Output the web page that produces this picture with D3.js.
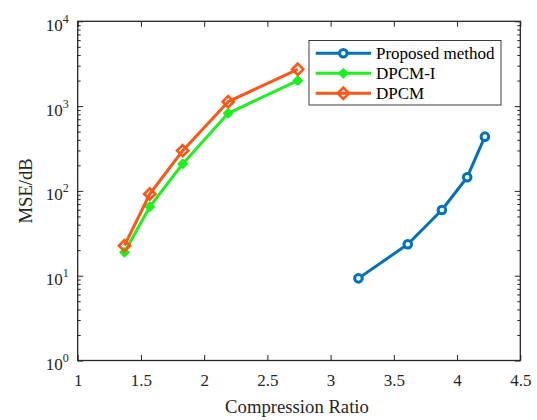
<!DOCTYPE html>
<html>
<head>
<meta charset="utf-8">
<script src="https://cdn.jsdelivr.net/npm/d3@7"></script>
<style>
  html, body { margin: 0; padding: 0; background: #fff; }
  svg, svg text, svg g { font-family: "Liberation Serif", "Times New Roman", serif !important; }
</style>
</head>
<body>
<svg id="chart" width="537" height="420"></svg>
<script>
// Compression ratio (x) and MSE (y) for each method
const proposedCR  = [3.22, 3.61, 3.88, 4.08, 4.22];
const proposedMSE = [9.3, 23.5, 59.5, 145, 436];

const dpcmICR  = [1.37, 1.57, 1.83, 2.19, 2.74];
const dpcmIMSE = [18.9, 65, 208, 822, 1993];

const dpcmCR  = [1.37, 1.57, 1.83, 2.19, 2.74];
const dpcmMSE = [22.6, 92, 298, 1127, 2716];

const seriesNames = ["Proposed method", "DPCM-I", "DPCM"];
const xTicks = [1, 1.5, 2, 2.5, 3, 3.5, 4, 4.5];
const yMajorExp = [0, 1, 2, 3, 4];

const svg = d3.select("#chart");
const L = 77.7, R = 520.3, T = 21.3, B = 360.5;
const axisColor = "#262626";

const x = d3.scaleLinear().domain([1, 4.5]).range([L, R]);
const y = d3.scaleLog().domain([1, 10000]).range([B, T]);

const yMinor = [];
for (let e = 0; e < 4; e++) for (let k = 2; k <= 9; k++) yMinor.push(k * Math.pow(10, e));
const yMajor = yMajorExp.map(e => Math.pow(10, e));

// white plotting area
svg.append("rect").attr("x", L).attr("y", T).attr("width", R - L).attr("height", B - T)
  .attr("fill", "#fff");

function styleAxis(g) {
  g.attr("font-size", 17);
  g.select(".domain").remove();
  g.selectAll("line").attr("stroke", axisColor).attr("stroke-width", 1);
  g.selectAll("text").attr("fill", axisColor);
}

// bottom axis with labels
svg.append("g").attr("transform", `translate(0,${B})`)
  .call(d3.axisBottom(x).tickValues(xTicks).tickSize(-5.5).tickPadding(13.5)
    .tickFormat(d3.format("")))
  .call(styleAxis);

// top axis mirrored ticks
svg.append("g").attr("transform", `translate(0,${T})`)
  .call(d3.axisTop(x).tickValues(xTicks).tickSize(-5.5).tickFormat(""))
  .call(styleAxis);

// left axis: minor + major ticks
svg.append("g").attr("transform", `translate(${L},0)`)
  .call(d3.axisLeft(y).tickValues(yMinor).tickSize(-3).tickFormat(""))
  .call(styleAxis);
const gy = svg.append("g").attr("transform", `translate(${L},0)`)
  .call(d3.axisLeft(y).tickValues(yMajor).tickSize(-5.5).tickPadding(9).tickFormat(""));
gy.call(styleAxis);
gy.selectAll(".tick text").each(function(d) {
  const t = d3.select(this)
    .attr("dy", null).attr("y", 9).attr("text-anchor", "end");
  t.text(null);
  t.append("tspan").text("10");
  t.append("tspan").attr("font-size", 12).attr("dy", -8).text(String(Math.round(Math.log10(d))));
});

// right axis mirrored ticks
svg.append("g").attr("transform", `translate(${R},0)`)
  .call(d3.axisRight(y).tickValues(yMinor).tickSize(-3).tickFormat(""))
  .call(styleAxis);
svg.append("g").attr("transform", `translate(${R},0)`)
  .call(d3.axisRight(y).tickValues(yMajor).tickSize(-5.5).tickFormat(""))
  .call(styleAxis);

// axes box
svg.append("rect").attr("x", L).attr("y", T).attr("width", R - L).attr("height", B - T)
  .attr("fill", "none").attr("stroke", axisColor).attr("stroke-width", 1.3);

// axis titles
svg.append("text").attr("x", (L + R) / 2 - 2).attr("y", 413)
  .attr("text-anchor", "middle").attr("font-size", 18.7).attr("fill", axisColor)
  .text("Compression Ratio");
svg.append("text").attr("transform", `translate(32,${(T + B) / 2}) rotate(-90)`)
  .attr("text-anchor", "middle").attr("font-size", 18.7).attr("fill", axisColor)
  .text("MSE/dB");

// markers
const diamond = s => `M0,${-s}L${s},0L0,${s}L${-s},0Z`;
function drawMarker(g, kind, color) {
  if (kind === "circle") {
    g.append("circle").attr("r", 3.8).attr("fill", "#fff")
      .attr("stroke", color).attr("stroke-width", 3);
  } else if (kind === "filledDiamond") {
    g.append("path").attr("d", diamond(4.2)).attr("fill", color)
      .attr("stroke", color).attr("stroke-width", 2).attr("stroke-linejoin", "round");
  } else {
    g.append("path").attr("d", diamond(5.6)).attr("fill", "none")
      .attr("stroke", color).attr("stroke-width", 2.6);
  }
}

const series = [
  { name: seriesNames[0], xs: proposedCR, ys: proposedMSE, color: "#0072BD", marker: "circle" },
  { name: seriesNames[1], xs: dpcmICR, ys: dpcmIMSE, color: "#1EF01E", marker: "filledDiamond" },
  { name: seriesNames[2], xs: dpcmCR, ys: dpcmMSE, color: "#FF5515", marker: "diamond" }
];

const line = d3.line().x(d => x(d[0])).y(d => y(d[1]));

series.forEach(s => {
  const pts = s.xs.map((v, i) => [v, s.ys[i]]);
  svg.append("path").datum(pts).attr("d", line)
    .attr("fill", "none").attr("stroke", s.color).attr("stroke-width", 3)
    .attr("stroke-linejoin", "round");
  svg.selectAll(null).data(pts).enter().append("g")
    .attr("transform", d => `translate(${x(d[0])},${y(d[1])})`)
    .each(function() { drawMarker(d3.select(this), s.marker, s.color); });
});

// legend
const lg = svg.append("g");
lg.append("rect").attr("x", 309).attr("y", 40.5).attr("width", 192).attr("height", 64.5)
  .attr("fill", "#fff").attr("stroke", axisColor).attr("stroke-width", 0.9);
series.forEach((s, i) => {
  const cy = 53.3 + i * 20;
  lg.append("line").attr("x1", 315.7).attr("x2", 371).attr("y1", cy).attr("y2", cy)
    .attr("stroke", s.color).attr("stroke-width", 3);
  drawMarker(lg.append("g").attr("transform", `translate(343.3,${cy})`), s.marker, s.color);
  lg.append("text").attr("x", 376).attr("y", cy + 5.8).attr("font-size", 17)
    .attr("fill", "#000").text(s.name);
});
</script>
</body>
</html>
